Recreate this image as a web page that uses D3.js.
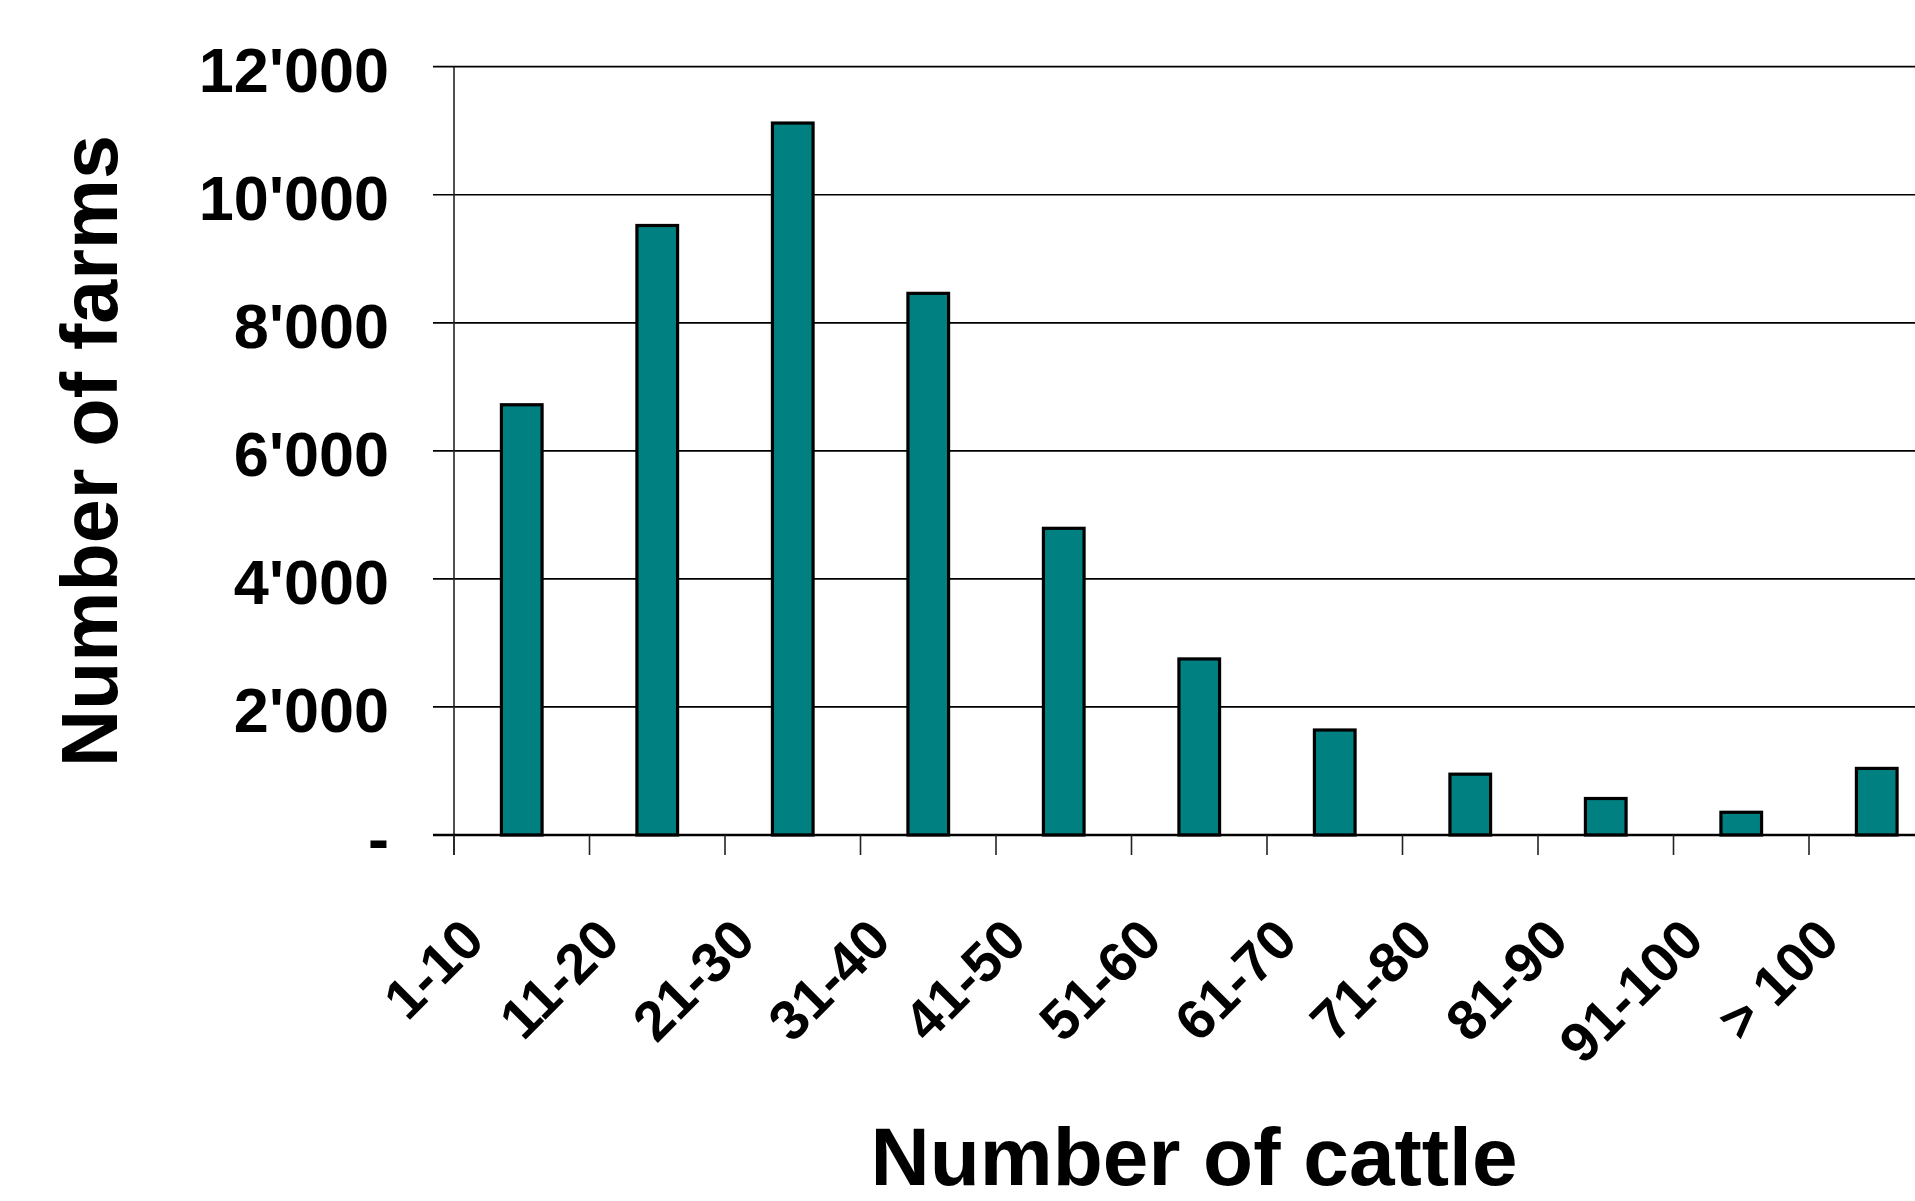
<!DOCTYPE html>
<html>
<head>
<meta charset="utf-8">
<script src="https://cdn.jsdelivr.net/npm/d3@7/dist/d3.min.js"></script>
<style>
  html, body { margin: 0; padding: 0; background: #fff; overflow: hidden; }
  svg text { font-family: "Liberation Sans", Arial, sans-serif; font-weight: bold; fill: #000; }
</style>
</head>
<body>
<svg id="chart" width="1915" height="1201"></svg>
<script>
// Herd-size classes and number of farms in each
const categories = ["1-10", "11-20", "21-30", "31-40", "41-50", "51-60", "61-70", "71-80", "81-90", "91-100", "> 100"];
const farms = [6720, 9520, 11120, 8460, 4790, 2750, 1640, 950, 570, 355, 1040];

// Value axis ticks and their printed labels
const yTicks = [0, 2000, 4000, 6000, 8000, 10000, 12000];
const yTickLabels = ["-", "2'000", "4'000", "6'000", "8'000", "10'000", "12'000"];

const W = 1915, H = 1201;
const plot = { left: 454, top: 66.7, bottom: 835, step: 135.5 };

const svg = d3.select("#chart");

const x = d3.scaleBand()
  .domain(categories)
  .range([plot.left, plot.left + plot.step * categories.length])
  .padding(0);

const y = d3.scaleLinear()
  .domain([0, 12000])
  .range([plot.bottom, plot.top]);

const barW = x.bandwidth() * 0.3;

// Horizontal gridlines, with short tick stubs left of the value axis
svg.append("g")
  .selectAll("line")
  .data(yTicks.filter(v => v > 0))
  .join("line")
  .attr("x1", plot.left - 21)
  .attr("x2", W)
  .attr("y1", d => y(d))
  .attr("y2", d => y(d))
  .attr("stroke", "#000")
  .attr("stroke-width", 1.7);

// Value axis labels
svg.append("g")
  .selectAll("text")
  .data(yTicks)
  .join("text")
  .attr("x", 389)
  .attr("y", d => y(d) + 25.5)
  .attr("text-anchor", "end")
  .style("font-size", "63px")
  .text((d, i) => yTickLabels[i]);

// Value axis line
svg.append("line")
  .attr("x1", plot.left).attr("x2", plot.left)
  .attr("y1", plot.top).attr("y2", plot.bottom + 20)
  .attr("stroke", "#222")
  .attr("stroke-width", 1.6);

// Bars
svg.append("g")
  .selectAll("rect")
  .data(categories)
  .join("rect")
  .attr("x", d => x(d) + (x.bandwidth() - barW) / 2)
  .attr("y", (d, i) => y(farms[i]))
  .attr("width", barW)
  .attr("height", (d, i) => y(0) - y(farms[i]))
  .attr("fill", "#008080")
  .attr("stroke", "#000")
  .attr("stroke-width", 3.2);

// Category axis line and tick marks at band boundaries
svg.append("line")
  .attr("x1", plot.left - 21).attr("x2", W)
  .attr("y1", plot.bottom).attr("y2", plot.bottom)
  .attr("stroke", "#000")
  .attr("stroke-width", 2.4);

svg.append("g")
  .selectAll("line")
  .data(categories)
  .join("line")
  .attr("x1", d => x(d)).attr("x2", d => x(d))
  .attr("y1", plot.bottom).attr("y2", plot.bottom + 20)
  .attr("stroke", "#222")
  .attr("stroke-width", 1.6);

// Category labels, rotated 45 degrees
svg.append("g")
  .selectAll("text")
  .data(categories)
  .join("text")
  .attr("text-anchor", "end")
  .attr("transform", d => `translate(${x(d) + x.bandwidth() / 2 - 35},943) rotate(-45)`)
  .style("font-size", "56px")
  .text(d => d);

// Axis titles
svg.append("text")
  .attr("x", 1194)
  .attr("y", 1185)
  .attr("text-anchor", "middle")
  .style("font-size", "82px")
  .text("Number of cattle");

svg.append("text")
  .attr("transform", "translate(117,451) rotate(-90)")
  .attr("text-anchor", "middle")
  .style("font-size", "79px")
  .text("Number of farms");
</script>
</body>
</html>
